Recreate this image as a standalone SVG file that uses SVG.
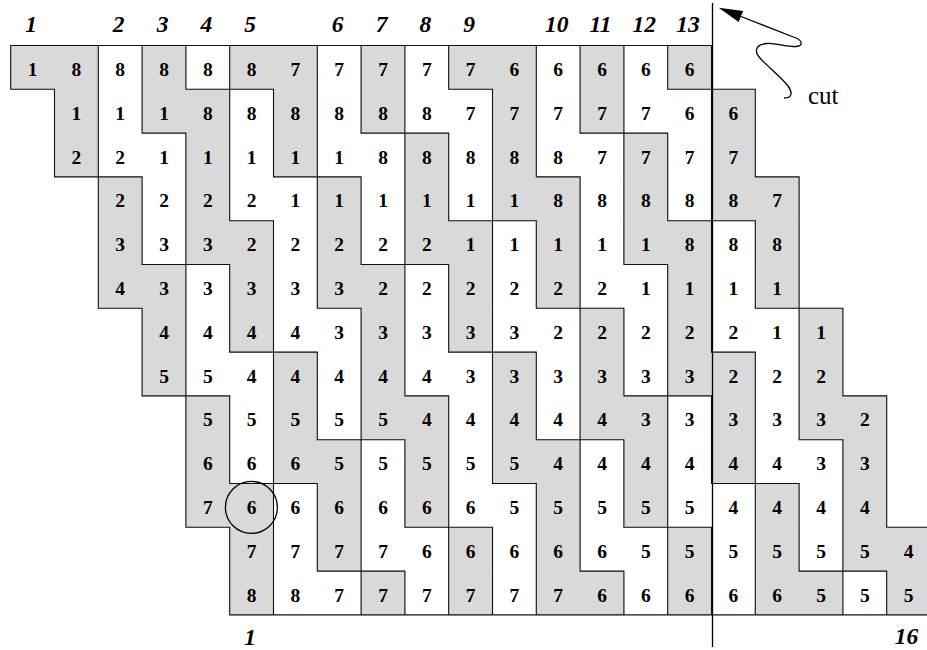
<svg xmlns="http://www.w3.org/2000/svg" width="927" height="650" viewBox="0 0 927 650">
<style>
.g{fill:#d9d9d9;stroke:#d9d9d9;stroke-width:1}
.ln{fill:none;stroke:#111;stroke-width:1.1;stroke-linecap:square}
.n{font-family:"Liberation Serif","Times New Roman",serif;font-weight:bold;font-size:19.5px;text-anchor:middle;fill:#000}
.lab{font-family:"Liberation Serif","Times New Roman",serif;font-weight:bold;font-style:italic;font-size:23.5px;text-anchor:middle;fill:#000}
.cut{font-family:"Liberation Serif","Times New Roman",serif;font-size:25px;fill:#000}
</style>
<defs>
<marker id="ah" markerUnits="userSpaceOnUse" viewBox="0 0 24 12" refX="0" refY="6" markerWidth="24" markerHeight="12" orient="auto">
<path d="M0,0 L24,6 L0,12 z" fill="#000"/>
</marker>
</defs>
<rect width="927" height="650" fill="#fff"/>
<g id="grid" transform="translate(10.7 45.5) scale(43.8)">
<path class="g" vector-effect="non-scaling-stroke" d="M0 0h2v1h-2zM3 0h1v1h-1zM5 0h2v1h-2zM8 0h1v1h-1zM10 0h2v1h-2zM13 0h1v1h-1zM15 0h1v1h-1z
M1 1h1v1h-1zM3 1h2v1h-2zM6 1h1v1h-1zM8 1h1v1h-1zM11 1h1v1h-1zM13 1h1v1h-1zM16 1h1v1h-1z
M1 2h1v1h-1zM4 2h1v1h-1zM6 2h1v1h-1zM9 2h1v1h-1zM11 2h1v1h-1zM14 2h1v1h-1zM16 2h1v1h-1z
M2 3h1v1h-1zM4 3h1v1h-1zM7 3h1v1h-1zM9 3h1v1h-1zM11 3h2v1h-2zM14 3h1v1h-1zM16 3h2v1h-2z
M2 4h1v1h-1zM4 4h2v1h-2zM7 4h1v1h-1zM9 4h2v1h-2zM12 4h1v1h-1zM14 4h2v1h-2zM17 4h1v1h-1z
M2 5h2v1h-2zM5 5h1v1h-1zM7 5h2v1h-2zM10 5h1v1h-1zM12 5h1v1h-1zM15 5h1v1h-1zM17 5h1v1h-1z
M3 6h1v1h-1zM5 6h1v1h-1zM8 6h1v1h-1zM10 6h1v1h-1zM13 6h1v1h-1zM15 6h1v1h-1zM18 6h1v1h-1z
M3 7h1v1h-1zM6 7h1v1h-1zM8 7h1v1h-1zM11 7h1v1h-1zM13 7h1v1h-1zM15 7h2v1h-2zM18 7h1v1h-1z
M4 8h1v1h-1zM6 8h1v1h-1zM8 8h2v1h-2zM11 8h1v1h-1zM13 8h2v1h-2zM16 8h1v1h-1zM18 8h2v1h-2z
M4 9h1v1h-1zM6 9h2v1h-2zM9 9h1v1h-1zM11 9h2v1h-2zM14 9h1v1h-1zM16 9h1v1h-1zM19 9h1v1h-1z
M4 10h2v1h-2zM7 10h1v1h-1zM9 10h1v1h-1zM12 10h1v1h-1zM14 10h1v1h-1zM17 10h1v1h-1zM19 10h1v1h-1z
M5 11h1v1h-1zM7 11h1v1h-1zM10 11h1v1h-1zM12 11h1v1h-1zM15 11h1v1h-1zM17 11h1v1h-1zM19 11h2v1h-2z
M5 12h1v1h-1zM8 12h1v1h-1zM10 12h1v1h-1zM12 12h2v1h-2zM15 12h1v1h-1zM17 12h2v1h-2zM20 12h1v1h-1z"/>
<path class="ln" vector-effect="non-scaling-stroke" d="M0 0v1M2 0v1M3 0v1M4 0v1M5 0v1M7 0v1M8 0v1M9 0v1M10 0v1M12 0v1M13 0v1M14 0v1M15 0v1M16 0v1
M1 1v1M2 1v1M3 1v1M5 1v1M6 1v1M7 1v1M8 1v1M9 1v1M11 1v1M12 1v1M13 1v1M14 1v1M16 1v1M17 1v1
M1 2v1M2 2v1M4 2v1M5 2v1M6 2v1M7 2v1M9 2v1M10 2v1M11 2v1M12 2v1M14 2v1M15 2v1M16 2v1M17 2v1
M2 3v1M3 3v1M4 3v1M5 3v1M7 3v1M8 3v1M9 3v1M10 3v1M11 3v1M13 3v1M14 3v1M15 3v1M16 3v1M18 3v1
M2 4v1M3 4v1M4 4v1M6 4v1M7 4v1M8 4v1M9 4v1M11 4v1M12 4v1M13 4v1M14 4v1M16 4v1M17 4v1M18 4v1
M2 5v1M4 5v1M5 5v1M6 5v1M7 5v1M9 5v1M10 5v1M11 5v1M12 5v1M13 5v1M15 5v1M16 5v1M17 5v1M18 5v1
M3 6v1M4 6v1M5 6v1M6 6v1M8 6v1M9 6v1M10 6v1M11 6v1M13 6v1M14 6v1M15 6v1M16 6v1M18 6v1M19 6v1
M3 7v1M4 7v1M6 7v1M7 7v1M8 7v1M9 7v1M11 7v1M12 7v1M13 7v1M14 7v1M15 7v1M17 7v1M18 7v1M19 7v1
M4 8v1M5 8v1M6 8v1M7 8v1M8 8v1M10 8v1M11 8v1M12 8v1M13 8v1M15 8v1M16 8v1M17 8v1M18 8v1M20 8v1
M4 9v1M5 9v1M6 9v1M8 9v1M9 9v1M10 9v1M11 9v1M13 9v1M14 9v1M15 9v1M16 9v1M17 9v1M19 9v1M20 9v1
M4 10v1M6 10v1M7 10v1M8 10v1M9 10v1M10 10v1M12 10v1M13 10v1M14 10v1M15 10v1M17 10v1M18 10v1M19 10v1M20 10v1
M5 11v1M6 11v1M7 11v1M8 11v1M10 11v1M11 11v1M12 11v1M13 11v1M15 11v1M16 11v1M17 11v1M18 11v1M19 11v1M21 11v1
M5 12v1M6 12v1M8 12v1M9 12v1M10 12v1M11 12v1M12 12v1M14 12v1M15 12v1M16 12v1M17 12v1M19 12v1M20 12v1M21 12v1
M0 0h16
M0 1h1M4 1h2M10 1h1M15 1h2
M3 2h1M8 2h2M13 2h2
M1 3h2M6 3h2M12 3h1M17 3h1
M5 4h1M10 4h2M15 4h2
M3 5h2M8 5h2M14 5h1
M2 6h1M7 6h1M12 6h2M17 6h2
M5 7h2M10 7h2M16 7h1
M3 8h2M9 8h1M14 8h2M19 8h1
M7 9h2M12 9h2M18 9h1
M5 10h2M11 10h1M16 10h2
M4 11h1M9 11h2M14 11h2M20 11h1
M7 12h2M13 12h1M18 12h2
M5 13h16"/>
</g>
<g id="row-0">
<text class="n" x="32.6" y="76">1</text><text class="n" x="76.4" y="76">8</text><text class="n" x="120.2" y="76">8</text><text class="n" x="164" y="76">8</text><text class="n" x="207.8" y="76">8</text><text class="n" x="251.6" y="76">8</text><text class="n" x="295.4" y="76">7</text><text class="n" x="339.2" y="76">7</text><text class="n" x="383" y="76">7</text><text class="n" x="426.8" y="76">7</text><text class="n" x="470.6" y="76">7</text><text class="n" x="514.4" y="76">6</text><text class="n" x="558.2" y="76">6</text><text class="n" x="602" y="76">6</text><text class="n" x="645.8" y="76">6</text><text class="n" x="689.6" y="76">6</text>
</g>
<g id="row-1">
<text class="n" x="76.4" y="119.8">1</text><text class="n" x="120.2" y="119.8">1</text><text class="n" x="164" y="119.8">1</text><text class="n" x="207.8" y="119.8">8</text><text class="n" x="251.6" y="119.8">8</text><text class="n" x="295.4" y="119.8">8</text><text class="n" x="339.2" y="119.8">8</text><text class="n" x="383" y="119.8">8</text><text class="n" x="426.8" y="119.8">8</text><text class="n" x="470.6" y="119.8">7</text><text class="n" x="514.4" y="119.8">7</text><text class="n" x="558.2" y="119.8">7</text><text class="n" x="602" y="119.8">7</text><text class="n" x="645.8" y="119.8">7</text><text class="n" x="689.6" y="119.8">6</text><text class="n" x="733.4" y="119.8">6</text>
</g>
<g id="row-2">
<text class="n" x="76.4" y="163.6">2</text><text class="n" x="120.2" y="163.6">2</text><text class="n" x="164" y="163.6">1</text><text class="n" x="207.8" y="163.6">1</text><text class="n" x="251.6" y="163.6">1</text><text class="n" x="295.4" y="163.6">1</text><text class="n" x="339.2" y="163.6">1</text><text class="n" x="383" y="163.6">8</text><text class="n" x="426.8" y="163.6">8</text><text class="n" x="470.6" y="163.6">8</text><text class="n" x="514.4" y="163.6">8</text><text class="n" x="558.2" y="163.6">8</text><text class="n" x="602" y="163.6">7</text><text class="n" x="645.8" y="163.6">7</text><text class="n" x="689.6" y="163.6">7</text><text class="n" x="733.4" y="163.6">7</text>
</g>
<g id="row-3">
<text class="n" x="120.2" y="207.4">2</text><text class="n" x="164" y="207.4">2</text><text class="n" x="207.8" y="207.4">2</text><text class="n" x="251.6" y="207.4">2</text><text class="n" x="295.4" y="207.4">1</text><text class="n" x="339.2" y="207.4">1</text><text class="n" x="383" y="207.4">1</text><text class="n" x="426.8" y="207.4">1</text><text class="n" x="470.6" y="207.4">1</text><text class="n" x="514.4" y="207.4">1</text><text class="n" x="558.2" y="207.4">8</text><text class="n" x="602" y="207.4">8</text><text class="n" x="645.8" y="207.4">8</text><text class="n" x="689.6" y="207.4">8</text><text class="n" x="733.4" y="207.4">8</text><text class="n" x="777.2" y="207.4">7</text>
</g>
<g id="row-4">
<text class="n" x="120.2" y="251.2">3</text><text class="n" x="164" y="251.2">3</text><text class="n" x="207.8" y="251.2">3</text><text class="n" x="251.6" y="251.2">2</text><text class="n" x="295.4" y="251.2">2</text><text class="n" x="339.2" y="251.2">2</text><text class="n" x="383" y="251.2">2</text><text class="n" x="426.8" y="251.2">2</text><text class="n" x="470.6" y="251.2">1</text><text class="n" x="514.4" y="251.2">1</text><text class="n" x="558.2" y="251.2">1</text><text class="n" x="602" y="251.2">1</text><text class="n" x="645.8" y="251.2">1</text><text class="n" x="689.6" y="251.2">8</text><text class="n" x="733.4" y="251.2">8</text><text class="n" x="777.2" y="251.2">8</text>
</g>
<g id="row-5">
<text class="n" x="120.2" y="295">4</text><text class="n" x="164" y="295">3</text><text class="n" x="207.8" y="295">3</text><text class="n" x="251.6" y="295">3</text><text class="n" x="295.4" y="295">3</text><text class="n" x="339.2" y="295">3</text><text class="n" x="383" y="295">2</text><text class="n" x="426.8" y="295">2</text><text class="n" x="470.6" y="295">2</text><text class="n" x="514.4" y="295">2</text><text class="n" x="558.2" y="295">2</text><text class="n" x="602" y="295">2</text><text class="n" x="645.8" y="295">1</text><text class="n" x="689.6" y="295">1</text><text class="n" x="733.4" y="295">1</text><text class="n" x="777.2" y="295">1</text>
</g>
<g id="row-6">
<text class="n" x="164" y="338.8">4</text><text class="n" x="207.8" y="338.8">4</text><text class="n" x="251.6" y="338.8">4</text><text class="n" x="295.4" y="338.8">4</text><text class="n" x="339.2" y="338.8">3</text><text class="n" x="383" y="338.8">3</text><text class="n" x="426.8" y="338.8">3</text><text class="n" x="470.6" y="338.8">3</text><text class="n" x="514.4" y="338.8">3</text><text class="n" x="558.2" y="338.8">2</text><text class="n" x="602" y="338.8">2</text><text class="n" x="645.8" y="338.8">2</text><text class="n" x="689.6" y="338.8">2</text><text class="n" x="733.4" y="338.8">2</text><text class="n" x="777.2" y="338.8">1</text><text class="n" x="821" y="338.8">1</text>
</g>
<g id="row-7">
<text class="n" x="164" y="382.6">5</text><text class="n" x="207.8" y="382.6">5</text><text class="n" x="251.6" y="382.6">4</text><text class="n" x="295.4" y="382.6">4</text><text class="n" x="339.2" y="382.6">4</text><text class="n" x="383" y="382.6">4</text><text class="n" x="426.8" y="382.6">4</text><text class="n" x="470.6" y="382.6">3</text><text class="n" x="514.4" y="382.6">3</text><text class="n" x="558.2" y="382.6">3</text><text class="n" x="602" y="382.6">3</text><text class="n" x="645.8" y="382.6">3</text><text class="n" x="689.6" y="382.6">3</text><text class="n" x="733.4" y="382.6">2</text><text class="n" x="777.2" y="382.6">2</text><text class="n" x="821" y="382.6">2</text>
</g>
<g id="row-8">
<text class="n" x="207.8" y="426.4">5</text><text class="n" x="251.6" y="426.4">5</text><text class="n" x="295.4" y="426.4">5</text><text class="n" x="339.2" y="426.4">5</text><text class="n" x="383" y="426.4">5</text><text class="n" x="426.8" y="426.4">4</text><text class="n" x="470.6" y="426.4">4</text><text class="n" x="514.4" y="426.4">4</text><text class="n" x="558.2" y="426.4">4</text><text class="n" x="602" y="426.4">4</text><text class="n" x="645.8" y="426.4">3</text><text class="n" x="689.6" y="426.4">3</text><text class="n" x="733.4" y="426.4">3</text><text class="n" x="777.2" y="426.4">3</text><text class="n" x="821" y="426.4">3</text><text class="n" x="864.8" y="426.4">2</text>
</g>
<g id="row-9">
<text class="n" x="207.8" y="470.2">6</text><text class="n" x="251.6" y="470.2">6</text><text class="n" x="295.4" y="470.2">6</text><text class="n" x="339.2" y="470.2">5</text><text class="n" x="383" y="470.2">5</text><text class="n" x="426.8" y="470.2">5</text><text class="n" x="470.6" y="470.2">5</text><text class="n" x="514.4" y="470.2">5</text><text class="n" x="558.2" y="470.2">4</text><text class="n" x="602" y="470.2">4</text><text class="n" x="645.8" y="470.2">4</text><text class="n" x="689.6" y="470.2">4</text><text class="n" x="733.4" y="470.2">4</text><text class="n" x="777.2" y="470.2">4</text><text class="n" x="821" y="470.2">3</text><text class="n" x="864.8" y="470.2">3</text>
</g>
<g id="row-10">
<text class="n" x="207.8" y="514">7</text><text class="n" x="251.6" y="514">6</text><text class="n" x="295.4" y="514">6</text><text class="n" x="339.2" y="514">6</text><text class="n" x="383" y="514">6</text><text class="n" x="426.8" y="514">6</text><text class="n" x="470.6" y="514">6</text><text class="n" x="514.4" y="514">5</text><text class="n" x="558.2" y="514">5</text><text class="n" x="602" y="514">5</text><text class="n" x="645.8" y="514">5</text><text class="n" x="689.6" y="514">5</text><text class="n" x="733.4" y="514">4</text><text class="n" x="777.2" y="514">4</text><text class="n" x="821" y="514">4</text><text class="n" x="864.8" y="514">4</text>
</g>
<g id="row-11">
<text class="n" x="251.6" y="557.8">7</text><text class="n" x="295.4" y="557.8">7</text><text class="n" x="339.2" y="557.8">7</text><text class="n" x="383" y="557.8">7</text><text class="n" x="426.8" y="557.8">6</text><text class="n" x="470.6" y="557.8">6</text><text class="n" x="514.4" y="557.8">6</text><text class="n" x="558.2" y="557.8">6</text><text class="n" x="602" y="557.8">6</text><text class="n" x="645.8" y="557.8">5</text><text class="n" x="689.6" y="557.8">5</text><text class="n" x="733.4" y="557.8">5</text><text class="n" x="777.2" y="557.8">5</text><text class="n" x="821" y="557.8">5</text><text class="n" x="864.8" y="557.8">5</text><text class="n" x="908.6" y="557.8">4</text>
</g>
<g id="row-12">
<text class="n" x="251.6" y="601.6">8</text><text class="n" x="295.4" y="601.6">8</text><text class="n" x="339.2" y="601.6">7</text><text class="n" x="383" y="601.6">7</text><text class="n" x="426.8" y="601.6">7</text><text class="n" x="470.6" y="601.6">7</text><text class="n" x="514.4" y="601.6">7</text><text class="n" x="558.2" y="601.6">7</text><text class="n" x="602" y="601.6">6</text><text class="n" x="645.8" y="601.6">6</text><text class="n" x="689.6" y="601.6">6</text><text class="n" x="733.4" y="601.6">6</text><text class="n" x="777.2" y="601.6">6</text><text class="n" x="821" y="601.6">5</text><text class="n" x="864.8" y="601.6">5</text><text class="n" x="908.6" y="601.6">5</text>
</g>
<g id="labels-top">
<text class="lab" x="31.1" y="31.7">1</text><text class="lab" x="118.7" y="31.7">2</text><text class="lab" x="162.5" y="31.7">3</text><text class="lab" x="206.3" y="31.7">4</text><text class="lab" x="250.1" y="31.7">5</text><text class="lab" x="337.7" y="31.7">6</text><text class="lab" x="381.5" y="31.7">7</text><text class="lab" x="425.3" y="31.7">8</text><text class="lab" x="469.1" y="31.7">9</text><text class="lab" x="556.7" y="31.7">10</text><text class="lab" x="600.5" y="31.7">11</text><text class="lab" x="644.3" y="31.7">12</text><text class="lab" x="688.1" y="31.7">13</text>
</g>
<g id="labels-bottom">
<text class="lab" x="250.1" y="645">1</text><text class="lab" x="906.5" y="644">16</text>
</g>
<g id="marker-circle">
<circle cx="251.4" cy="507.4" r="26" fill="none" stroke="#000" stroke-width="1.3"/>
</g>
<g id="cut">
<line x1="712.5" y1="3" x2="712.5" y2="647" stroke="#000" stroke-width="1.3"/>
<text class="cut" x="808" y="104">cut</text>
</g>
<g id="connectors">
<path d="M784,98 C792,98 793,93 788,86 C782,78 768,67 760,58 C753,50 757,44 767,43.5 C776,43 788,47 796,46.5 C803,46 803,41 796,38 L741,16.5" fill="none" stroke="#000" stroke-width="1.3" marker-end="url(#ah)"/>
</g>
</svg>
